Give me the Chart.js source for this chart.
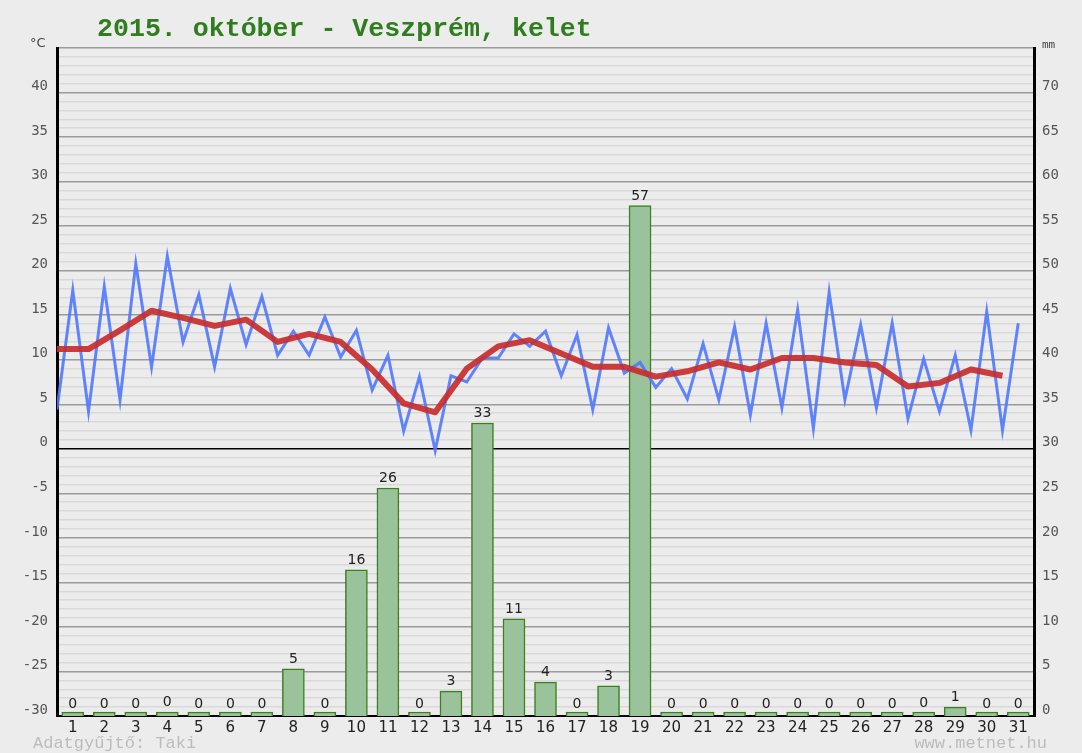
<!DOCTYPE html>
<html>
<head>
<meta charset="utf-8">
<script src="https://cdn.jsdelivr.net/npm/chart.js@4/dist/chart.umd.min.js"></script>
<style>
  html, body { margin: 0; padding: 0; background: #ececec; }
  canvas { display: block; }
</style>
</head>
<body>
<canvas id="c" width="1082" height="753"></canvas>
<script>
// ---- data ----
const days = [1, 2, 3, 4, 5, 6, 7, 8, 9, 10, 11, 12, 13, 14, 15, 16, 17, 18, 19, 20, 21, 22, 23, 24, 25, 26, 27, 28, 29, 30, 31];
// temperature (°C): min at start of each day, max at middle of each day
const tempMin = [4.4, 4.2, 5.5, 9.2, 12.0, 9.2, 11.7, 10.5, 10.5, 10.3, 6.6, 2.0, -0.2, 7.5, 10.2, 11.5, 8.2, 4.4, 8.5, 6.9, 5.6, 5.5, 3.8, 4.6, 2.3, 5.5, 4.6, 3.4, 4.2, 2.1, 2.1];
const tempMax = [17.8, 18.2, 20.8, 21.6, 17.3, 18.0, 17.1, 13.2, 14.8, 13.3, 10.5, 8.1, 8.2, 10.2, 12.9, 13.2, 12.8, 13.6, 9.7, 9.0, 11.8, 13.7, 14.1, 15.6, 17.6, 13.9, 14.1, 10.1, 10.5, 15.4, 14.1];
// daily mean temperature (°C), drawn at the start of each day
const tempAvg = [11.2, 11.2, 13.3, 15.5, 14.7, 13.8, 14.5, 12.0, 12.9, 12.0, 8.9, 5.1, 4.1, 9.0, 11.5, 12.2, 10.7, 9.2, 9.2, 8.1, 8.7, 9.7, 8.9, 10.2, 10.2, 9.7, 9.4, 7.0, 7.4, 8.9, 8.2];
// precipitation (mm)
const rain = [0, 0, 0, 0.4, 0, 0, 0, 5.3, 0, 16.4, 25.6, 0, 2.8, 32.9, 10.9, 3.8, 0, 3.4, 57.3, 0, 0, 0, 0, 0, 0, 0, 0, 0.3, 1.0, 0, 0];

const titleText = '2015. október - Veszprém, kelet';
const leftUnit = '°C';
const rightUnit = 'mm';
const footerLeft = 'Adatgyűjtő: Taki';
const footerRight = 'www.metnet.hu';

// ---- build series for the library ----
const rainPoints = days.map((d, i) => ({ x: d, y: rain[i] }));
const tempPoints = [];
days.forEach((d, i) => {
  tempPoints.push({ x: d - 0.5, y: tempMin[i] });
  tempPoints.push({ x: d, y: tempMax[i] });
});
const avgPoints = days.map((d, i) => ({ x: d - 0.5, y: tempAvg[i] }));

Chart.defaults.font.family = 'DejaVu Sans';

const textPlugin = {
  id: 'texts',
  beforeDraw(chart) {
    const ctx = chart.ctx;
    ctx.save();
    ctx.fillStyle = '#ececec';
    ctx.fillRect(0, 0, chart.width, chart.height);
    ctx.restore();
  },
  afterDraw(chart) {
    const ctx = chart.ctx;
    ctx.save();
    // title
    ctx.fillStyle = '#2f7d1f';
    ctx.font = 'bold 26.6px "Liberation Mono"';
    ctx.textAlign = 'left';
    ctx.textBaseline = 'alphabetic';
    ctx.fillText(titleText, 97, 36);
    // units
    ctx.fillStyle = '#444';
    ctx.font = '13px "DejaVu Sans"';
    ctx.fillText(leftUnit, 30, 47);
    ctx.font = '11px "DejaVu Sans Mono"';
    ctx.fillText(rightUnit, 1042, 48);
    // footer
    ctx.fillStyle = '#bcbcbc';
    ctx.font = '17px "Liberation Mono"';
    ctx.fillText(footerLeft, 33, 748);
    ctx.textAlign = 'right';
    ctx.fillText(footerRight, 1047, 748);
    // bar value labels
    const meta = chart.getDatasetMeta(0);
    const ys = chart.scales.y2;
    ctx.fillStyle = '#222';
    ctx.font = '14px "DejaVu Sans"';
    ctx.textAlign = 'center';
    meta.data.forEach((el, i) => {
      const v = rain[i];
      const yTop = ys.getPixelForValue(v);
      const base = ys.getPixelForValue(0);
      const top = Math.min(yTop, base - 2);
      ctx.fillText(String(Math.round(v)), el.x, top - 6);
    });
    ctx.restore();
  }
};

new Chart(document.getElementById('c'), {
  type: 'bar',
  data: {
    datasets: [
      {
        type: 'bar',
        label: 'Csapadék',
        data: rainPoints,
        xAxisID: 'x',
        yAxisID: 'y2',
        backgroundColor: '#9ac39b',
        borderColor: '#3d7f1f',
        borderWidth: 1.5,
        borderSkipped: 'start',
        grouped: false,
        barThickness: 22,
        minBarLength: 4,
        order: 3
      },
      {
        type: 'line',
        label: 'Hőmérséklet',
        data: tempPoints,
        xAxisID: 'x',
        yAxisID: 'y',
        borderColor: 'rgba(80,120,255,0.9)',
        borderWidth: 3,
        pointRadius: 0,
        tension: 0,
        fill: false,
        order: 2
      },
      {
        type: 'line',
        label: 'Középhőmérséklet',
        data: avgPoints,
        xAxisID: 'x',
        yAxisID: 'y',
        borderColor: 'rgba(200,45,45,0.92)',
        borderWidth: 6,
        pointRadius: 0,
        tension: 0,
        fill: false,
        borderJoinStyle: 'round',
        order: 1
      }
    ]
  },
  options: {
    responsive: false,
    animation: false,
    layout: { padding: { top: 48, left: 0, right: 0, bottom: 0 } },
    plugins: { legend: { display: false }, tooltip: { enabled: false }, title: { display: false } },
    scales: {
      x: {
        type: 'linear',
        position: 'bottom',
        min: 0.5,
        max: 31.5,
        offset: false,
        grid: { display: false, drawTicks: false, offset: false },
        border: { color: '#000', width: 2 },
        afterBuildTicks(scale) { scale.ticks = days.map(d => ({ value: d })); },
        ticks: {
          autoSkip: false,
          maxRotation: 0,
          color: '#222',
          font: { size: 15, family: 'DejaVu Sans' },
          padding: 3,
          callback(v) { return String(v); }
        },
        afterFit(s) { s.height = 37; }
      },
      y: {
        position: 'left',
        min: -30,
        max: 45,
        grid: {
          drawTicks: false,
          color(ctx) {
            const v = ctx.tick.value;
            if (v === 0) return '#000';
            if (v % 5 === 0) return '#9a9a9a';
            return '#d9d9d9';
          },
          lineWidth: 1.5
        },
        border: { color: '#000', width: 3 },
        ticks: {
          stepSize: 1,
          autoSkip: false,
          color: '#555',
          font: { size: 14, family: 'DejaVu Sans Mono' },
          padding: 9,
          labelOffset: -6,
          callback(v) { return (v % 5 === 0 && v < 45) ? String(v) : ''; }
        },
        afterFit(s) { s.width = 57; }
      },
      y2: {
        position: 'right',
        min: 0,
        max: 75,
        grid: { display: false, drawTicks: false },
        border: { color: '#000', width: 3 },
        ticks: {
          stepSize: 5,
          autoSkip: false,
          color: '#555',
          font: { size: 14, family: 'DejaVu Sans Mono' },
          padding: 8,
          labelOffset: -6,
          callback(v) { return v < 75 ? String(v) : ''; }
        },
        afterFit(s) { s.width = 48; }
      }
    }
  },
  plugins: [textPlugin]
});
</script>
</body>
</html>
